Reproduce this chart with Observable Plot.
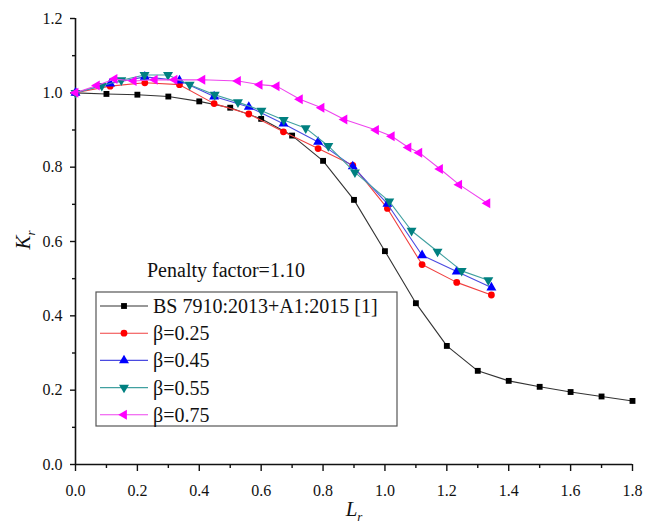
<!DOCTYPE html>
<html><head><meta charset="utf-8">
<script src="https://cdn.jsdelivr.net/npm/d3@7"></script>
<script src="https://cdn.jsdelivr.net/npm/@observablehq/plot@0.6"></script>
<style>
body{margin:0;background:#fff;}
#wrap{position:relative;width:661px;height:528px;}
#wrap svg text{font-family:'Liberation Serif','Times New Roman',serif;}
</style></head>
<body><div id="wrap"></div>
<script>
// ---- data ----
const seriesNames = ["BS 7910:2013+A1:2015 [1]", "β=0.25", "β=0.45", "β=0.55", "β=0.75"];
const seriesColors = ["#000000", "#ff0000", "#0000ff", "#008080", "#ff00ff"];
const lineColors = ["#333333", "#f04040", "#4a4ae0", "#40a0a0", "#ee44ee"];

const bsLr = [0, 0.1, 0.2, 0.3, 0.4, 0.5, 0.6, 0.7, 0.8, 0.9, 1.0, 1.1, 1.2, 1.3, 1.4, 1.5, 1.6, 1.7, 1.8];
const bsKr = [1.0, 0.997, 0.995, 0.99, 0.977, 0.96, 0.93, 0.885, 0.817, 0.712, 0.574, 0.434, 0.319, 0.252, 0.225, 0.209, 0.195, 0.183, 0.171];

const b25Lr = [0, 0.112, 0.224, 0.336, 0.448, 0.56, 0.672, 0.784, 0.896, 1.008, 1.12, 1.232, 1.344];
const b25Kr = [1.0, 1.018, 1.027, 1.022, 0.971, 0.943, 0.895, 0.85, 0.805, 0.689, 0.538, 0.49, 0.456];

const b45Lr = [0, 0.112, 0.224, 0.336, 0.448, 0.56, 0.672, 0.784, 0.896, 1.008, 1.12, 1.232, 1.344];
const b45Kr = [1.0, 1.025, 1.043, 1.033, 0.99, 0.962, 0.917, 0.868, 0.802, 0.701, 0.563, 0.519, 0.476];

const b55Lr = [0, 0.085, 0.148, 0.223, 0.299, 0.369, 0.45, 0.525, 0.601, 0.673, 0.744, 0.817, 0.903, 1.014, 1.086, 1.17, 1.248, 1.334];
const b55Kr = [1.0, 1.019, 1.034, 1.048, 1.048, 1.022, 0.995, 0.975, 0.952, 0.927, 0.905, 0.857, 0.786, 0.708, 0.629, 0.573, 0.521, 0.496];

const b75Lr = [0, 0.069, 0.126, 0.188, 0.256, 0.32, 0.41, 0.525, 0.595, 0.65, 0.725, 0.795, 0.869, 0.971, 1.022, 1.076, 1.111, 1.178, 1.24, 1.331];
const b75Kr = [1.0, 1.02, 1.037, 1.032, 1.035, 1.035, 1.035, 1.032, 1.022, 1.018, 0.983, 0.96, 0.928, 0.9, 0.883, 0.853, 0.839, 0.795, 0.753, 0.703];

const xTicks = [0, 0.2, 0.4, 0.6, 0.8, 1.0, 1.2, 1.4, 1.6, 1.8];
const xMinor = [0.1, 0.3, 0.5, 0.7, 0.9, 1.1, 1.3, 1.5, 1.7];
const yTicks = [0, 0.2, 0.4, 0.6, 0.8, 1.0, 1.2];
const yMinor = [0.1, 0.3, 0.5, 0.7, 0.9, 1.1];
const annotation = "Penalty factor=1.10";

// ---- symbols ----
const S3 = Math.sqrt(3);
const triangleDown = {draw(ctx, size) {
  const y = -Math.sqrt(size / (S3 * 3));
  ctx.moveTo(0, -y * 2); ctx.lineTo(-S3 * y, y); ctx.lineTo(S3 * y, y); ctx.closePath();
}};
const triangleLeft = {draw(ctx, size) {
  const y = -Math.sqrt(size / (S3 * 3));
  ctx.moveTo(y * 2, 0); ctx.lineTo(-y, -S3 * y); ctx.lineTo(-y, S3 * y); ctx.closePath();
}};
const seriesSymbols = [d3.symbolSquare, d3.symbolCircle, d3.symbolTriangle, triangleDown, triangleLeft];
const seriesR = [3.3, 3.4, 3.7, 3.7, 3.7];

const xs = [bsLr, b25Lr, b45Lr, b55Lr, b75Lr];
const ys = [bsKr, b25Kr, b45Kr, b55Kr, b75Kr];
const tables = xs.map((xa, i) => xa.map((x, j) => ({Lr: x, Kr: ys[i][j]})));

const seriesMarks = tables.flatMap((t, i) => [
  Plot.line(t, {x: "Lr", y: "Kr", stroke: lineColors[i], strokeWidth: 1.1}),
  Plot.dot(t, {x: "Lr", y: "Kr", fill: seriesColors[i], stroke: "none", r: seriesR[i], symbol: seriesSymbols[i]})
]);

const serif = "'Liberation Serif', 'Times New Roman', serif";
const chart = Plot.plot({
  width: 661, height: 528,
  marginLeft: 75, marginRight: 29, marginTop: 18, marginBottom: 64,
  style: {fontFamily: serif, fontSize: "16px", color: "#111", background: "white", overflow: "visible"},
  x: {domain: [0, 1.8], label: null},
  y: {domain: [0, 1.2], label: null},
  marks: [
    Plot.axisX(xTicks, {tickSize: 7, tickPadding: 13, tickFormat: d3.format(".1f"), strokeWidth: 1.4, label: null, fontFamily: serif, fontSize: 16}),
    Plot.axisX(xMinor, {tickSize: 4, fill: "none", strokeWidth: 1.4, label: null}),
    Plot.axisY(yTicks, {tickSize: 5, tickPadding: 8, tickFormat: d3.format(".1f"), strokeWidth: 1.4, label: null, fontFamily: serif, fontSize: 16}),
    Plot.axisY(yMinor, {tickSize: 3, fill: "none", strokeWidth: 1.4, label: null}),
    Plot.ruleY([0], {strokeWidth: 1.6}),
    Plot.ruleX([0], {strokeWidth: 1.6}),
    ...seriesMarks
  ]
});
document.getElementById("wrap").appendChild(chart);

// ---- axis titles, annotation and legend ----
const svg = d3.select(chart);
const yl = svg.append("text").attr("transform", "translate(30,240) rotate(-90)")
  .attr("text-anchor", "middle").attr("font-family", serif).attr("font-size", 21).attr("fill", "#111");
yl.append("tspan").attr("font-style", "italic").text("K");
yl.append("tspan").attr("font-style", "italic").attr("font-size", 13).attr("dy", 5).text("r");

const xl = svg.append("text").attr("x", 354).attr("y", 516)
  .attr("text-anchor", "middle").attr("font-family", serif).attr("font-size", 21).attr("fill", "#111");
xl.append("tspan").attr("font-style", "italic").text("L");
xl.append("tspan").attr("font-style", "italic").attr("font-size", 13).attr("dy", 5).text("r");

svg.append("text").attr("x", 147).attr("y", 277).attr("text-anchor", "start")
  .attr("font-family", serif).attr("font-size", 20).attr("fill", "#111").text(annotation);

const lg = svg.append("g").attr("transform", "translate(96,292)");
lg.append("rect").attr("width", 301).attr("height", 134).attr("fill", "white").attr("stroke", "#555").attr("stroke-width", 1.2);
seriesNames.forEach((name, i) => {
  const cy = 14 + i * 27.2;
  const g = lg.append("g").attr("transform", `translate(0,${cy})`);
  g.append("line").attr("x1", 4).attr("x2", 52).attr("y1", 0).attr("y2", 0).attr("stroke", lineColors[i]).attr("stroke-width", 1.1);
  g.append("path").attr("transform", "translate(28,0)")
    .attr("d", d3.symbol(seriesSymbols[i], Math.PI * seriesR[i] * seriesR[i])())
    .attr("fill", seriesColors[i]);
  g.append("text").attr("x", 57).attr("y", 7).attr("text-anchor", "start")
    .attr("font-family", serif).attr("font-size", 20).attr("fill", "#111").text(name);
});
</script>
</body></html>
